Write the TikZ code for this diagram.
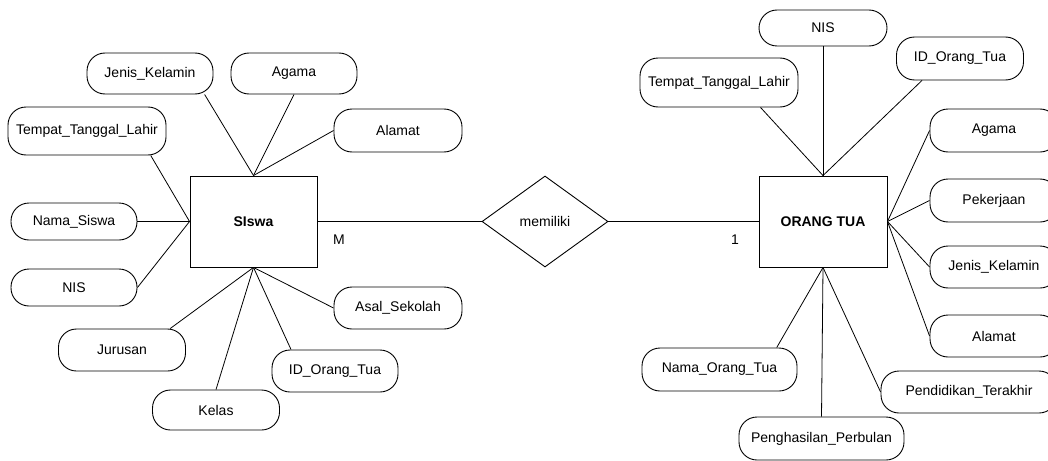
\documentclass[tikz,border=0pt]{standalone}
\usepackage{fontspec}
\setmainfont{Liberation Sans}
\usetikzlibrary{shapes.geometric, positioning}

\begin{document}
\begin{tikzpicture}[x=1pt, y=-1pt, font=\fontsize{14}{16}\selectfont]
\tikzstyle{entity} = [rectangle, minimum width=127pt, minimum height=91pt, text centered, draw=black, line width=0.9pt, font=\fontsize{14}{16}\selectfont\bfseries]
\tikzstyle{attrib} = [rectangle, rounded corners=18pt, minimum width=126pt, minimum height=42pt, text centered, draw=black, line width=0.9pt]
\tikzstyle{relation} = [diamond, minimum width=126pt, minimum height=91pt, inner sep=0pt, text centered, draw=black, line width=0.9pt]
\tikzstyle{link} = [draw=black, line width=0.8pt]

\useasboundingbox (0,0) rectangle (1048,460);

% entities and relation
\node (siswa) [entity] at (253.5,221.5) {SIswa};
\node (ortu) [entity, minimum width=128pt] at (823,221.5) {ORANG TUA};
\node (rel) [relation] at (545,221.5) {memiliki};
\node (m) at (339,240) {M};
\node (one) at (735,240) {1};

% attributes of SIswa
\node (s1) [attrib, minimum height=41pt] at (150,73.5) {Jenis\_Kelamin};
\node (s2) [attrib, minimum height=41pt] at (294,73.5) {Agama};
\node (s3) [attrib, minimum width=158pt, minimum height=48pt] at (87,131) {Tempat\_Tanggal\_Lahir};
\node (s4) [attrib, minimum width=128pt, minimum height=43pt] at (398,130.5) {Alamat};
\node (s5) [attrib, minimum height=37pt] at (74,221.5) {Nama\_Siswa};
\node (s6) [attrib, minimum height=37pt] at (74,287.5) {NIS};
\node (s7) [attrib, minimum width=127pt] at (122,350) {Jurusan};
\node (s8) [attrib, minimum width=127pt, minimum height=40pt] at (216,410) {Kelas};
\node (s9) [attrib] at (335,371) {ID\_Orang\_Tua};
\node (s10) [attrib, minimum width=128pt] at (398,308) {Asal\_Sekolah};

% attributes of ORANG TUA
\node (o1) [attrib, minimum width=128pt, minimum height=36pt] at (823,28) {NIS};
\node (o2) [attrib, minimum width=127pt, minimum height=43pt] at (960,58.5) {ID\_Orang\_Tua};
\node (o3) [attrib, minimum width=158pt, minimum height=49pt] at (719,82.5) {Tempat\_Tanggal\_Lahir};
\node (o4) [attrib, minimum width=128pt, minimum height=43pt] at (994,130.5) {Agama};
\node (o5) [attrib, minimum width=128pt, minimum height=43pt] at (994,200.5) {Pekerjaan};
\node (o6) [attrib, minimum width=128pt, minimum height=42pt] at (994,267) {Jenis\_Kelamin};
\node (o7) [attrib, minimum width=128pt, minimum height=42pt] at (994,336) {Alamat};
\node (o8) [attrib, minimum width=176pt, minimum height=42pt] at (969,392) {Pendidikan\_Terakhir};
\node (o9) [attrib, minimum width=155pt, minimum height=43pt] at (719.5,369.5) {Nama\_Orang\_Tua};
\node (o10) [attrib, minimum width=165pt, minimum height=43pt] at (821.5,438.5) {Penghasilan\_Perbulan};

% connectors
\draw [link] (siswa.east) -- (rel.west);
\draw [link] (rel.east) -- (ortu.west);

\draw [link] (s1.-21) -- (siswa.north);
\draw [link] (s2.south) -- (siswa.north);
\draw [link] (s4.west) -- (siswa.north);
\draw [link] (s3.-21.5) -- (siswa.west);
\draw [link] (s5.east) -- (siswa.west);
\draw [link] (s6.east) -- (siswa.west);
\draw [link] (s7.24.5) -- (siswa.south);
\draw [link] (s8.north) -- (siswa.south);
\draw [link] (s9.154) -- (siswa.south);
\draw [link] (s10.west) -- (siswa.south);

\draw [link] (o1.south) -- (ortu.north);
\draw [link] (o2.-150.5) -- (ortu.north);
\draw [link] (o3.-31) -- (ortu.north);
\draw [link] (o4.west) -- (ortu.east);
\draw [link] (o5.west) -- (ortu.east);
\draw [link] (o6.west) -- (ortu.east);
\draw [link] (o7.west) -- (ortu.east);
\draw [link] (o8.west) -- (ortu.south);
\draw [link] (o9.21) -- (ortu.south);
\draw [link] (o10.north) -- (ortu.south);

\end{tikzpicture}
\end{document}
